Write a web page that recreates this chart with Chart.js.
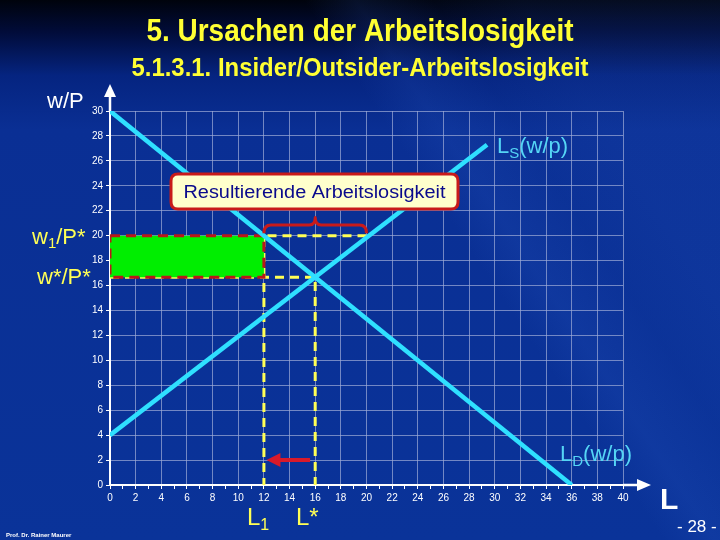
<!DOCTYPE html>
<html><head><meta charset="utf-8">
<script src="https://cdn.jsdelivr.net/npm/chart.js@4.4.0/dist/chart.umd.min.js"></script>
<style>html,body{margin:0;padding:0;background:#0a2d92;}canvas{display:block;}</style>
</head><body>
<canvas id="c" width="720" height="540"></canvas>
<script>
// ---- data ----
const demandL = [0, 36];        // L_D(w/p) endpoints (L)
const demandW = [30, 0];        // L_D(w/p) endpoints (w/P)
const supplyL = [0, 29.4];      // L_S(w/p) endpoints (L)
const supplyW = [4, 27.3];      // L_S(w/p) endpoints (w/P)
const wageLevels = [20, 16.67]; // w1/P*, w*/P*
const employment = [12, 16];    // L1, L*
const gapL = [12, 20];          // resulting unemployment at w1/P*
const arrowL = [15.6, 12.2];    // red arrow from L* towards L1
const arrowW = [2, 2];
const xTickLabels = ['0','2','4','6','8','10','12','14','16','18','20','22','24','26','28','30','32','34','36','38','40'];
const yTickLabels = ['0','2','4','6','8','10','12','14','16','18','20','22','24','26','28','30'];

const CYAN = '#2fe0ff';
const YEL = '#ffff55';
const RED = '#c81a1a';
const GRID = 'rgba(160,172,215,0.7)';

const pts = (xs, ys) => xs.map((x, i) => ({x: x, y: ys[i]}));

function runs(ctx, list, x, y, color, bold) {
  ctx.fillStyle = color;
  ctx.textAlign = 'left';
  ctx.textBaseline = 'alphabetic';
  let cx = x;
  for (const r of list) {
    ctx.font = (bold ? 'bold ' : '') + r.s + 'px "Liberation Sans", Arial, sans-serif';
    ctx.fillText(r.t, cx, y + (r.dy || 0));
    cx += ctx.measureText(r.t).width;
  }
}
function fitText(ctx, s, cx, y, size, color, bold, width) {
  ctx.save();
  ctx.font = (bold ? 'bold ' : '') + size + 'px "Liberation Sans", Arial, sans-serif';
  const w = ctx.measureText(s).width;
  const k = width / w;
  ctx.translate(cx, y);
  ctx.scale(k, 1);
  ctx.fillStyle = color;
  ctx.textAlign = 'center';
  ctx.textBaseline = 'alphabetic';
  ctx.fillText(s, 0, 0);
  ctx.restore();
}

const deco = {
  id: 'deco',
  beforeDraw(chart) {
    const ctx = chart.ctx;
    ctx.save();
    let g = ctx.createLinearGradient(0, 0, 0, 540);
    g.addColorStop(0, '#00030c');
    g.addColorStop(0.06, '#010c3a');
    g.addColorStop(0.14, '#052480');
    g.addColorStop(0.24, '#0a2f94');
    g.addColorStop(1, '#0a3399');
    ctx.fillStyle = g;
    ctx.fillRect(0, 0, 720, 540);
    let d = ctx.createLinearGradient(460, 560, 760, 360);
    d.addColorStop(0, 'rgba(50,100,210,0)');
    d.addColorStop(0.5, 'rgba(50,100,210,0.0)');
    d.addColorStop(0.62, 'rgba(50,100,210,0.14)');
    d.addColorStop(0.8, 'rgba(50,100,210,0.04)');
    d.addColorStop(1, 'rgba(50,100,210,0.1)');
    ctx.fillStyle = d;
    ctx.fillRect(0, 0, 720, 540);
    ctx.restore();
  },
  afterDatasetsDraw(chart) {
    const ctx = chart.ctx;
    const xs = chart.scales.x, ys = chart.scales.y;
    const X = v => xs.getPixelForValue(v), Y = v => ys.getPixelForValue(v);
    const a = chart.chartArea;
    ctx.save();
    // axis arrows
    ctx.strokeStyle = '#fff'; ctx.fillStyle = '#fff'; ctx.lineWidth = 2.5;
    ctx.beginPath(); ctx.moveTo(a.left, a.top); ctx.lineTo(a.left, 92); ctx.stroke();
    ctx.beginPath(); ctx.moveTo(a.left, 84); ctx.lineTo(a.left - 6, 97); ctx.lineTo(a.left + 6, 97); ctx.closePath(); ctx.fill();
    ctx.beginPath(); ctx.moveTo(a.right, a.bottom); ctx.lineTo(642, a.bottom); ctx.stroke();
    ctx.beginPath(); ctx.moveTo(651, a.bottom); ctx.lineTo(637, a.bottom - 6); ctx.lineTo(637, a.bottom + 6); ctx.closePath(); ctx.fill();

    // red arrow L* -> L1
    const ax0 = X(arrowL[0]), ax1 = X(arrowL[1]), ay = Y(arrowW[0]);
    ctx.strokeStyle = '#d81a2a'; ctx.fillStyle = '#d81a2a'; ctx.lineWidth = 4;
    ctx.beginPath(); ctx.moveTo(ax0, ay); ctx.lineTo(ax1 + 12, ay); ctx.stroke();
    ctx.beginPath(); ctx.moveTo(ax1, ay); ctx.lineTo(ax1 + 14, ay - 7); ctx.lineTo(ax1 + 14, ay + 7); ctx.closePath(); ctx.fill();

    // brace over unemployment gap
    const x1 = X(gapL[0]), x2 = X(gapL[1]), xm = (x1 + x2) / 2;
    const yb = Y(wageLevels[0] + 0.2), yh = Y(wageLevels[0] + 0.85), yt = Y(wageLevels[0] + 1.45);
    ctx.strokeStyle = RED; ctx.lineWidth = 3; ctx.lineJoin = 'round';
    ctx.beginPath();
    ctx.moveTo(x1, yb);
    ctx.quadraticCurveTo(x1, yh, x1 + 7, yh);
    ctx.lineTo(xm - 6, yh);
    ctx.quadraticCurveTo(xm, yh, xm, yt);
    ctx.quadraticCurveTo(xm, yh, xm + 6, yh);
    ctx.lineTo(x2 - 7, yh);
    ctx.quadraticCurveTo(x2, yh, x2, yb);
    ctx.stroke();

    // text box
    const bx = 171, by = 174, bw = 287, bh = 35, r = 7;
    ctx.beginPath();
    ctx.moveTo(bx + r, by); ctx.lineTo(bx + bw - r, by); ctx.quadraticCurveTo(bx + bw, by, bx + bw, by + r);
    ctx.lineTo(bx + bw, by + bh - r); ctx.quadraticCurveTo(bx + bw, by + bh, bx + bw - r, by + bh);
    ctx.lineTo(bx + r, by + bh); ctx.quadraticCurveTo(bx, by + bh, bx, by + bh - r);
    ctx.lineTo(bx, by + r); ctx.quadraticCurveTo(bx, by, bx + r, by); ctx.closePath();
    ctx.fillStyle = '#ffffcc'; ctx.fill();
    ctx.strokeStyle = RED; ctx.lineWidth = 3; ctx.stroke();
    fitText(ctx, 'Resultierende Arbeitslosigkeit', bx + bw / 2, by + 24, 18, '#0a0a8c', false, 262);

    // titles
    fitText(ctx, '5. Ursachen der Arbeitslosigkeit', 360, 41, 31, '#ffff33', true, 427);
    fitText(ctx, '5.1.3.1. Insider/Outsider-Arbeitslosigkeit', 360, 76, 25, '#ffff33', true, 457);

    // axis / curve labels
    runs(ctx, [{t: 'w/P', s: 22}], 47, 108, '#ffffff');
    runs(ctx, [{t: 'w', s: 22}, {t: '1', s: 15, dy: 4}, {t: '/P*', s: 22}], 32, 244, YEL);
    runs(ctx, [{t: 'w*/P*', s: 22}], 37, 284, YEL);
    runs(ctx, [{t: 'L', s: 22}, {t: 'S', s: 15, dy: 5}, {t: '(w/p)', s: 22}], 497, 153, '#55d5f5');
    runs(ctx, [{t: 'L', s: 22}, {t: 'D', s: 15, dy: 5}, {t: '(w/p)', s: 22}], 560, 461, '#55d5f5');
    runs(ctx, [{t: 'L', s: 24}, {t: '1', s: 16, dy: 5}], 247, 525, YEL);
    runs(ctx, [{t: 'L*', s: 24}], 296, 525, YEL);
    runs(ctx, [{t: 'L', s: 30}], 660, 509, '#ffffff', true);
    runs(ctx, [{t: '- 28 -', s: 17}], 677, 532, '#ffffff');
    runs(ctx, [{t: 'Prof. Dr. Rainer Maurer', s: 6}], 6, 537, '#ffffff', true);
    ctx.restore();
  }
};

new Chart(document.getElementById('c'), {
  type: 'line',
  data: {
    datasets: [
      { data: pts(demandL, demandW), borderColor: CYAN, borderWidth: 4.5, pointRadius: 0, fill: false, borderCapStyle: 'butt' },
      { data: pts(supplyL, supplyW), borderColor: CYAN, borderWidth: 4.5, pointRadius: 0, fill: false },
      { data: [{x: 0, y: wageLevels[0]}, {x: employment[0], y: wageLevels[0]}, {x: employment[0], y: wageLevels[1]}, {x: 0, y: wageLevels[1]}, {x: 0, y: wageLevels[0]}],
        borderColor: '#b81818', borderWidth: 3, borderDash: [10, 6], backgroundColor: '#00ee00', fill: 'shape', pointRadius: 0 },
      { data: [{x: gapL[1], y: wageLevels[0]}, {x: employment[0], y: wageLevels[0]}, {x: employment[0], y: 0}],
        borderColor: YEL, borderWidth: 3, borderDash: [9, 6], pointRadius: 0, fill: false },
      { data: [{x: 0, y: wageLevels[1]}, {x: employment[1], y: wageLevels[1]}, {x: employment[1], y: 0}],
        borderColor: YEL, borderWidth: 3, borderDash: [9, 6], pointRadius: 0, fill: false }
    ]
  },
  options: {
    responsive: false,
    animation: false,
    devicePixelRatio: 1,
    layout: { padding: { left: 80, top: 111, right: 97, bottom: 30 } },
    plugins: { legend: { display: false }, tooltip: { enabled: false }, title: { display: false } },
    elements: { line: { tension: 0 } },
    scales: {
      x: {
        type: 'linear', min: 0, max: 40,
        afterFit: s => { s.height = 25; },
        ticks: {
          stepSize: 1, autoSkip: false, maxRotation: 0, padding: 3, color: '#ffffff',
          font: { size: 10, family: '"Liberation Sans", Arial, sans-serif' },
          callback: v => (v % 2 === 0 ? xTickLabels[v / 2] : '')
        },
        grid: {
          color: c => (c.tick && c.tick.value % 2 === 0 ? GRID : 'rgba(0,0,0,0)'),
          tickColor: '#ffffff', tickLength: 4, lineWidth: 1
        },
        border: { display: true, color: '#ffffff', width: 2 }
      },
      y: {
        type: 'linear', min: 0, max: 30,
        afterFit: s => { s.width = 30; },
        ticks: {
          stepSize: 2, padding: 3, color: '#ffffff',
          font: { size: 10, family: '"Liberation Sans", Arial, sans-serif' },
          callback: v => yTickLabels[v / 2]
        },
        grid: { color: GRID, tickColor: '#ffffff', tickLength: 4, lineWidth: 1 },
        border: { display: true, color: '#ffffff', width: 2 }
      }
    }
  },
  plugins: [deco]
});
</script>
</body></html>
